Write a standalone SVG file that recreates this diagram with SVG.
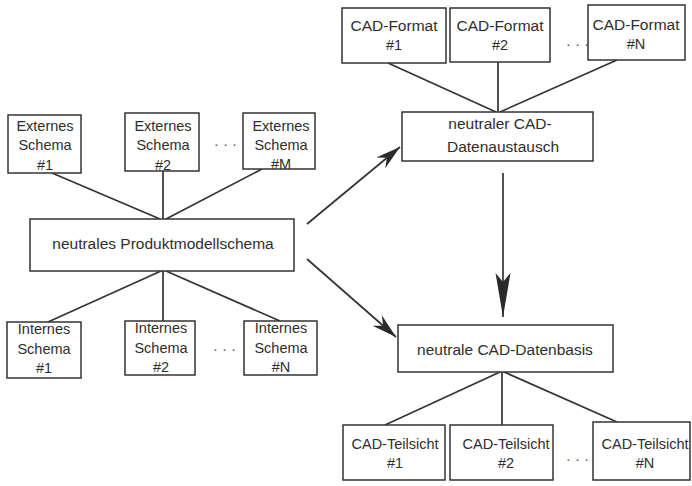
<svg xmlns="http://www.w3.org/2000/svg" width="692" height="486" viewBox="0 0 692 486">
  <style>
    .box { fill: #ffffff; stroke: #333333; stroke-width: 1.5; }
    .lbl { font-family: "Liberation Sans", Arial, sans-serif; fill: #2e2e2e; text-anchor: middle; }
    .s { font-size: 14.5px; }
    .m { font-size: 15.5px; }
    .dots { font-family: "Liberation Sans", Arial, sans-serif; font-size: 15px; fill: #555555; text-anchor: middle; letter-spacing: 5px; }
    .link { stroke: #333333; stroke-width: 1.7; fill: none; }
  </style>
  <defs>
    <marker id="barb" markerUnits="userSpaceOnUse" markerWidth="30" markerHeight="16" viewBox="-26 -8 28 16" refX="0" refY="0" orient="auto">
      <path d="M0,0 L-25,-7 L-17,0 L-25,7 Z" fill="#2a2a2a"/>
    </marker>
    <marker id="barbLong" markerUnits="userSpaceOnUse" markerWidth="48" markerHeight="18" viewBox="-46 -9 48 18" refX="0" refY="0" orient="auto">
      <path d="M0,0 L-44,-7.5 L-35,0 L-44,7.5 Z" fill="#2a2a2a"/>
    </marker>
  </defs>
  <rect width="692" height="486" fill="#ffffff"/>

  <g id="connectors">
    <!-- external schemas to neutral product model schema -->
    <line class="link" x1="52" y1="173" x2="160" y2="219"/>
    <line class="link" x1="163" y1="171" x2="163" y2="219"/>
    <line class="link" x1="262" y1="169" x2="166" y2="219"/>
    <!-- neutral product model schema to internal schemas -->
    <line class="link" x1="161" y1="271" x2="48" y2="322"/>
    <line class="link" x1="163" y1="271" x2="163" y2="321"/>
    <line class="link" x1="166" y1="271" x2="280" y2="321"/>
    <!-- CAD formats to neutral CAD exchange -->
    <line class="link" x1="388" y1="63" x2="496" y2="112"/>
    <line class="link" x1="498" y1="62" x2="498" y2="112"/>
    <line class="link" x1="617" y1="60" x2="500" y2="112"/>
    <!-- neutral CAD data base to partial views -->
    <line class="link" x1="500" y1="372" x2="385" y2="425"/>
    <line class="link" x1="502" y1="372" x2="502" y2="425"/>
    <line class="link" x1="504" y1="372" x2="617" y2="422"/>
    <!-- arrows -->
    <line class="link" x1="307" y1="224" x2="400" y2="147" marker-end="url(#barb)"/>
    <line class="link" x1="307" y1="259" x2="396" y2="337" marker-end="url(#barb)"/>
    <line class="link" x1="503" y1="173" x2="503" y2="317" marker-end="url(#barbLong)"/>
  </g>

  <g id="ext1">
    <rect class="box" x="8" y="115" width="73" height="58"/>
    <text class="lbl s" x="45" y="131">Externes</text>
    <text class="lbl s" x="45" y="150">Schema</text>
    <text class="lbl s" x="45" y="170">#1</text>
  </g>
  <g id="ext2">
    <rect class="box" x="125" y="113" width="74" height="58"/>
    <text class="lbl s" x="163" y="131">Externes</text>
    <text class="lbl s" x="163" y="150">Schema</text>
    <text class="lbl s" x="163" y="170">#2</text>
  </g>
  <text class="dots" x="228" y="146">...</text>
  <g id="extM">
    <rect class="box" x="243" y="113" width="72" height="56"/>
    <text class="lbl s" x="281" y="131">Externes</text>
    <text class="lbl s" x="281" y="150">Schema</text>
    <text class="lbl s" x="281" y="169">#M</text>
  </g>

  <g id="neutralSchema">
    <rect class="box" x="30" y="219" width="264" height="52"/>
    <text class="lbl m" x="163" y="249">neutrales Produktmodellschema</text>
  </g>

  <g id="int1">
    <rect class="box" x="7" y="322" width="74" height="56"/>
    <text class="lbl s" x="44" y="334">Internes</text>
    <text class="lbl s" x="44" y="354">Schema</text>
    <text class="lbl s" x="44" y="373">#1</text>
  </g>
  <g id="int2">
    <rect class="box" x="125" y="321" width="70" height="54"/>
    <text class="lbl s" x="161" y="333">Internes</text>
    <text class="lbl s" x="161" y="353">Schema</text>
    <text class="lbl s" x="161" y="372">#2</text>
  </g>
  <text class="dots" x="227" y="351">...</text>
  <g id="intN">
    <rect class="box" x="244" y="321" width="73" height="54"/>
    <text class="lbl s" x="281" y="333">Internes</text>
    <text class="lbl s" x="281" y="353">Schema</text>
    <text class="lbl s" x="281" y="372">#N</text>
  </g>

  <g id="fmt1">
    <rect class="box" x="342" y="8" width="104" height="55"/>
    <text class="lbl m" x="394" y="31">CAD-Format</text>
    <text class="lbl s" x="394" y="50">#1</text>
  </g>
  <g id="fmt2">
    <rect class="box" x="450" y="8" width="100" height="54"/>
    <text class="lbl m" x="500" y="31">CAD-Format</text>
    <text class="lbl s" x="500" y="50">#2</text>
  </g>
  <text class="dots" x="580" y="46">...</text>
  <g id="fmtN">
    <rect class="box" x="588" y="5" width="97" height="55"/>
    <text class="lbl m" x="636" y="30">CAD-Format</text>
    <text class="lbl s" x="636" y="49">#N</text>
  </g>

  <g id="cadExchange">
    <rect class="box" x="402" y="112" width="191" height="49"/>
    <text class="lbl m" x="500" y="129">neutraler CAD-</text>
    <text class="lbl m" x="503" y="152">Datenaustausch</text>
  </g>

  <g id="cadBase">
    <rect class="box" x="398" y="325" width="215" height="47"/>
    <text class="lbl m" x="505" y="355">neutrale CAD-Datenbasis</text>
  </g>

  <g id="view1">
    <rect class="box" x="343" y="425" width="102" height="55"/>
    <text class="lbl s" x="395" y="449">CAD-Teilsicht</text>
    <text class="lbl s" x="395" y="468">#1</text>
  </g>
  <g id="view2">
    <rect class="box" x="450" y="425" width="103" height="55"/>
    <text class="lbl s" x="506" y="449">CAD-Teilsicht</text>
    <text class="lbl s" x="506" y="468">#2</text>
  </g>
  <text class="dots" x="580" y="461">...</text>
  <g id="viewN">
    <rect class="box" x="593" y="422" width="97" height="58"/>
    <text class="lbl s" x="645" y="449">CAD-Teilsicht</text>
    <text class="lbl s" x="645" y="468">#N</text>
  </g>
</svg>
